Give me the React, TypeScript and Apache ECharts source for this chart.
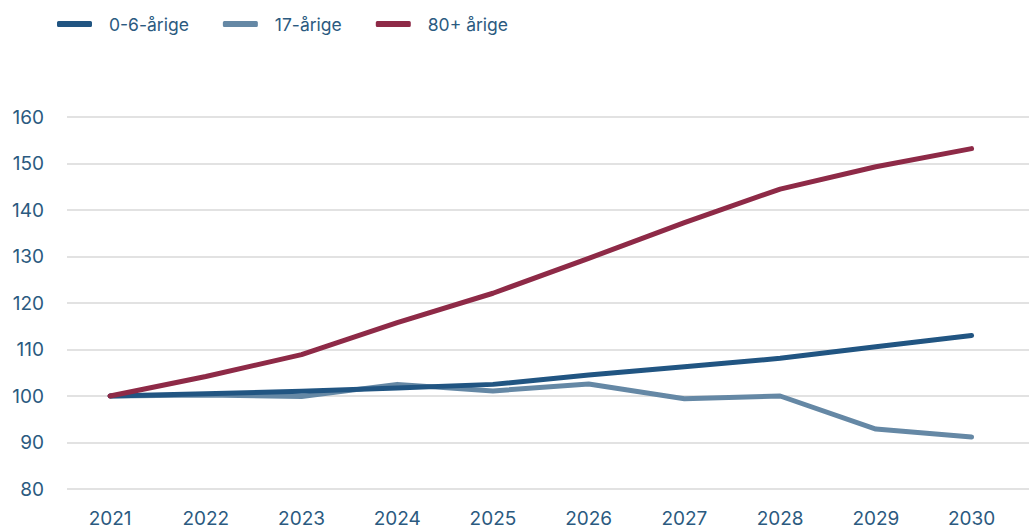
import React, { useEffect, useRef } from "react";
import * as echarts from "echarts";

const years = [2021, 2022, 2023, 2024, 2025, 2026, 2027, 2028, 2029, 2030];
const age0to6 = [100, 100.5, 101, 101.7, 102.5, 104.5, 106.3, 108.1, 110.6, 113.0];
const age17 = [100, 100.2, 99.9, 102.5, 101.1, 102.6, 99.4, 100.0, 92.9, 91.2];
const age80plus = [100, 104.2, 108.9, 115.8, 122.1, 129.6, 137.3, 144.5, 149.3, 153.2];
const seriesNames = ["0-6-årige", "17-årige", "80+ årige"];
const colors = ["#215582", "#6588a5", "#8e2a47"];

const FONT = "Inter, 'Noto Sans', sans-serif";
const TEXT = "#2b5a80";

export default function App() {
  const ref = useRef<HTMLDivElement>(null);
  useEffect(() => {
    if (!ref.current) return;
    const chart = echarts.init(ref.current, undefined, { renderer: "svg" });
    const pairs = (vals: number[]) => years.map((y, i) => [y, vals[i]]);
    const all = [age0to6, age17, age80plus];
    chart.setOption({
      animation: false,
      color: colors,
      textStyle: { fontFamily: FONT },
      legend: {
        left: 57,
        top: 15,
        padding: 0,
        itemWidth: 35,
        itemHeight: 6,
        itemGap: 34,
        icon: "roundRect",
        textStyle: { fontSize: 17.5, color: TEXT, fontFamily: FONT, padding: [0, 0, 0, 12] },
        data: seriesNames,
      },
      grid: { left: 67, right: 0, top: 117, bottom: 43 },
      xAxis: {
        type: "value",
        min: 2020.55,
        max: 2030.6,
        axisLine: { show: false },
        axisTick: { show: false },
        splitLine: { show: false },
        axisLabel: {
          customValues: years,
          formatter: (v: number) => String(v),
          fontSize: 19,
          color: TEXT,
          fontFamily: FONT,
          margin: 20,
        },
      },
      yAxis: {
        type: "value",
        min: 80,
        max: 160,
        interval: 10,
        axisLine: { show: false },
        axisTick: { show: false },
        splitLine: { lineStyle: { color: "#d9d9d9", width: 1.5 } },
        axisLabel: { fontSize: 19, color: TEXT, fontFamily: FONT, margin: 23 },
      },
      series: all.map((vals, i) => ({
        name: seriesNames[i],
        type: "line",
        data: pairs(vals),
        showSymbol: false,
        symbol: "none",
        lineStyle: { width: 5, color: colors[i], cap: "round", join: "round" },
        z: i === 0 ? 4 : i === 1 ? 3 : 5,
      })),
    });
    return () => chart.dispose();
  }, []);
  return (
    <div
      ref={ref}
      style={{ position: "fixed", left: 0, top: 0, width: 1029, height: 532, background: "#fff" }}
    />
  );
}
